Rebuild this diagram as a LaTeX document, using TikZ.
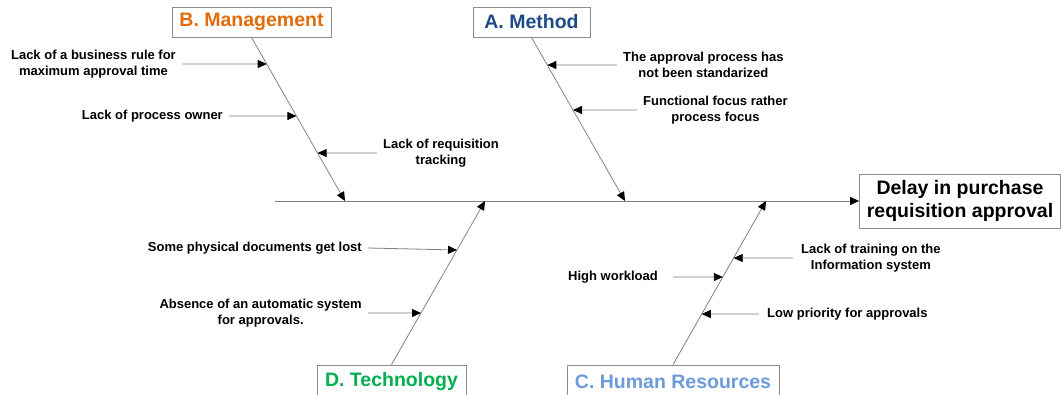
\documentclass[tikz,border=0pt]{standalone}
\usepackage{fontspec}
\setmainfont{Liberation Sans}
\usetikzlibrary{arrows.meta}
\definecolor{lineg}{HTML}{808080}
\definecolor{boxg}{HTML}{8C8C8C}
\definecolor{mgmtc}{HTML}{E36C0A}
\definecolor{methc}{HTML}{1F4A8A}
\definecolor{techc}{HTML}{00B050}
\definecolor{hrc}{HTML}{6C9BD9}
\begin{document}
\begin{tikzpicture}[x=1pt,y=-1pt,
  bone/.style={draw=lineg, line width=0.8pt},
  tipped/.style={-{Triangle[length=9pt,width=8pt,color=black,fill=black]}},
  catbox/.style={draw=boxg, line width=0.8pt, fill=white, font=\bfseries\fontsize{19.5}{23}\selectfont, inner sep=0pt},
  cause/.style={font=\bfseries\fontsize{13}{16}\selectfont, align=center, inner xsep=6pt, inner ysep=0pt},
  effectbox/.style={draw=boxg, line width=0.8pt, fill=white, font=\bfseries\fontsize{19.5}{23}\selectfont, align=center, inner sep=0pt}]
\useasboundingbox (0,0) rectangle (1061,395);

% effect and spine
\node[effectbox, minimum width=201pt, minimum height=54pt] (eff) at (960,201) {Delay in purchase\\requisition approval};
\coordinate (tail) at (275,201);
\draw[bone, tipped] (tail) -- (eff.west);

% category boxes
\node[catbox, text=mgmtc, minimum width=159pt, minimum height=30pt] (mgmt) at (251.5,22) {B. Management};
\node[catbox, text=methc, minimum width=117pt, minimum height=30pt] (meth) at (531.5,22) {A. Method};
\node[catbox, text=techc, minimum width=149pt, minimum height=34pt] (tech) at (391.5,382) {D. Technology};
\node[catbox, text=hrc, minimum width=212pt, minimum height=34pt] (hr) at (673,382) {C. Human Resources};

% bone ends on spine
\coordinate (mB) at (345,201);
\coordinate (aB) at (625,201);
\coordinate (tB) at (485,201);
\coordinate (hB) at (766,201);
\draw[bone, tipped] (mgmt.south) -- (mB);
\draw[bone, tipped] (meth.south) -- (aB);
\draw[bone, tipped] (tech.north) -- (tB);
\draw[bone, tipped] (hr.north) -- (hB);

% points on bones
\coordinate (m1) at (intersection of mgmt.south--mB and 0,64--1000,64);
\coordinate (m2) at (intersection of mgmt.south--mB and 0,116--1000,116);
\coordinate (m3) at (intersection of mgmt.south--mB and 0,153--1000,153);
\coordinate (a1) at (intersection of meth.south--aB and 0,65--1000,65);
\coordinate (a2) at (intersection of meth.south--aB and 0,110--1000,110);
\coordinate (t1) at (intersection of tech.north--tB and 0,250--1000,250);
\coordinate (t2) at (intersection of tech.north--tB and 0,313--1000,313);
\coordinate (h1) at (intersection of hr.north--hB and 0,258--1000,258);
\coordinate (h2) at (intersection of hr.north--hB and 0,277--1000,277);
\coordinate (h3) at (intersection of hr.north--hB and 0,314--1000,314);

% causes
\node[cause, anchor=east] (mc1) at (182,64) {Lack of a business rule for\\maximum approval time};
\node[cause, anchor=east] (mc2) at (229,116) {Lack of process owner};
\node[cause, anchor=west] (mc3) at (377,153) {Lack of requisition\\tracking};
\node[cause, anchor=west] (ac1) at (617,65) {The approval process has\\not been standarized};
\node[cause, anchor=west] (ac2) at (637,110) {Functional focus rather\\process focus};
\node[cause, anchor=east] (tc1) at (368,248) {Some physical documents get lost};
\node[cause, anchor=east] (tc2) at (368,313) {Absence of an automatic system\\for approvals.};
\node[cause, anchor=west, inner xsep=8pt] (hc1) at (793,258) {Lack of training on the\\Information system};
\node[cause, anchor=east, inner xsep=15pt] (hc2) at (673,277) {High workload};
\node[cause, anchor=west, inner xsep=8pt] (hc3) at (759,314) {Low priority for approvals};

\draw[bone, tipped] (mc1.east) -- (m1);
\draw[bone, tipped] (mc2.east) -- (m2);
\draw[bone, tipped] (mc3.west) -- (m3);
\draw[bone, tipped] (ac1.west) -- (a1);
\draw[bone, tipped] (ac2.west) -- (a2);
\draw[bone, tipped] (tc1.east) -- (t1);
\draw[bone, tipped] (tc2.east) -- (t2);
\draw[bone, tipped] (hc1.west) -- (h1);
\draw[bone, tipped] (hc2.east) -- (h2);
\draw[bone, tipped] (hc3.west) -- (h3);
\end{tikzpicture}
\end{document}
